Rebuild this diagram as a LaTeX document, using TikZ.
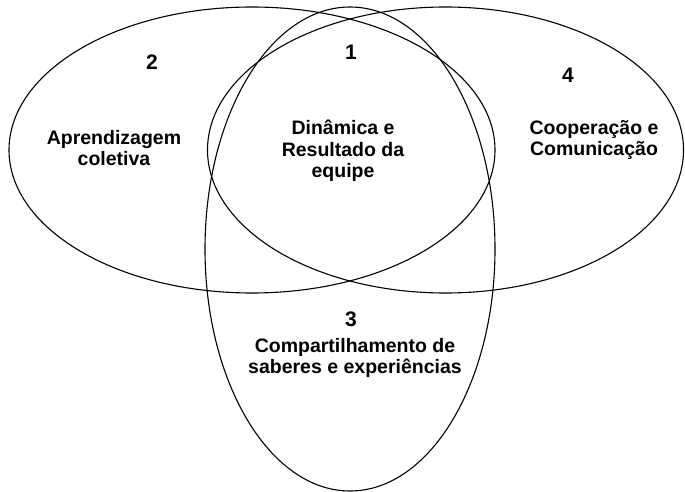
\documentclass[tikz,border=0pt]{standalone}
\usepackage{fontspec}
\setmainfont{Liberation Sans}
\tikzset{>=latex}

\begin{document}
\begin{tikzpicture}[x=1pt,y=-1pt,
    oval/.style={line width=1.1pt},
    num/.style={font=\bfseries\fontsize{21}{24}\selectfont,inner sep=0pt},
    lbl/.style={font=\bfseries\fontsize{19.5}{21.5}\selectfont,align=center,inner sep=0pt}]
  \useasboundingbox (0,0) rectangle (685,492);
  \draw[oval] (252,150)   ellipse [x radius=243pt,y radius=143pt];
  \draw[oval] (445.5,150) ellipse [x radius=238pt,y radius=143pt];
  \draw[oval] (350,249)   ellipse [x radius=145pt,y radius=242pt];
  \node[num] (n1) at (351,52)  {1};
  \node[num] (n2) at (152,62)  {2};
  \node[num] (n3) at (351,319) {3};
  \node[num] (n4) at (568,75)  {4};
  \node[lbl] (equipe)   at (343,151) {Dinâmica e\\Resultado da\\equipe};
  \node[lbl] (aprend)   at (114,148) {Aprendizagem\\coletiva};
  \node[lbl] (coop)     at (594,140) {Cooperação e\\Comunicação};
  \node[lbl] (saberes)  at (355,358) {Compartilhamento de\\saberes e experiências};
\end{tikzpicture}
\end{document}
